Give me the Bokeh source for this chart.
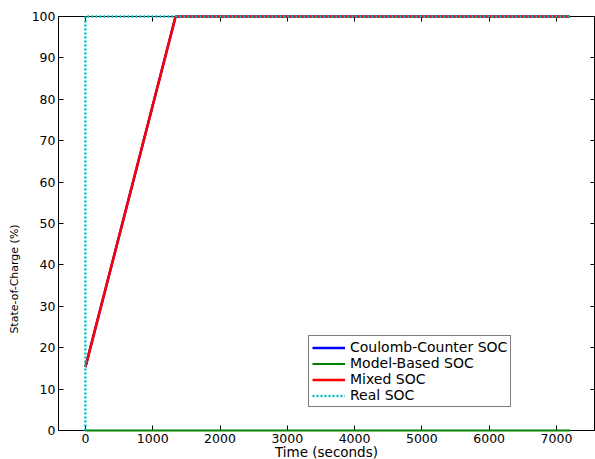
import math
from bokeh.plotting import figure
from bokeh.models import LinearAxis, FixedTicker, Range1d, Legend
from bokeh.core.properties import value
from bokeh.embed import file_html
from bokeh.resources import INLINE

# ---- data ----
t_cc = [0, 1340, 7200]
soc_cc = [15.3, 100, 100]
t_model = [0, 7200]
soc_model = [0, 0]
t_mixed = [0, 1340, 7200]
soc_mixed = [15.3, 100, 100]
t_real = [0, 0, 7200]
soc_real = [0, 100, 100]

x_ticks = [0, 1000, 2000, 3000, 4000, 5000, 6000, 7000]
y_ticks = [0, 10, 20, 30, 40, 50, 60, 70, 80, 90, 100]

FONT = "DejaVu Sans"

p = figure(width=595, height=459, output_backend="svg", toolbar_location=None,
           x_range=Range1d(-400, 7580), y_range=Range1d(0, 100),
           min_border_left=58, min_border_right=0, min_border_top=16,
           min_border_bottom=29)
p.background_fill_color = "white"
p.border_fill_color = "white"
p.outline_line_color = "black"
p.xgrid.visible = False
p.ygrid.visible = False

for ax in p.xaxis:
    ax.ticker = FixedTicker(ticks=x_ticks)
for ax in p.yaxis:
    ax.ticker = FixedTicker(ticks=y_ticks)

def style_axis(ax, labels=True):
    ax.major_tick_in = 5
    ax.major_tick_out = 0
    ax.minor_tick_line_color = None
    ax.axis_line_color = "black"
    ax.major_tick_line_color = "black"
    ax.major_label_text_font = FONT
    ax.major_label_text_color = "black"
    if labels:
        ax.major_label_text_font_size = "12.5px"
        ax.major_label_standoff = 3
    else:
        ax.major_label_text_font_size = "0px"
        ax.major_label_standoff = 0
        ax.major_label_text_color = None

for ax in p.xaxis:
    style_axis(ax)
for ax in p.yaxis:
    style_axis(ax)

top_ax = LinearAxis(ticker=FixedTicker(ticks=x_ticks))
style_axis(top_ax, labels=False)
p.add_layout(top_ax, "above")
right_ax = LinearAxis(ticker=FixedTicker(ticks=y_ticks))
style_axis(right_ax, labels=False)
p.add_layout(right_ax, "right")

r1 = p.line(t_cc, soc_cc, line_color="#0000ff", line_width=2.5, level="overlay")
r2 = p.line(t_model, soc_model, line_color="#008000", line_width=2, level="overlay")
r3 = p.line(t_mixed, soc_mixed, line_color="#ff0000", line_width=2.5, level="overlay")
r4 = p.line(t_real, soc_real, line_color="#00bfbf", line_width=2.5, line_dash="2 2",
            level="overlay")

legend = Legend(items=[("Coulomb-Counter SOC", [r1]), ("Model-Based SOC", [r2]),
                       ("Mixed SOC", [r3]), ("Real SOC", [r4])],
                location=(250, 23))
legend.label_text_font = FONT
legend.label_text_font_size = "14px"
legend.label_text_color = "black"
legend.glyph_width = 33
legend.glyph_height = 15
legend.label_height = 15
legend.label_standoff = 5
legend.spacing = 0
legend.padding = 3
legend.margin = 0
legend.border_line_color = "black"
legend.border_line_width = 1
legend.background_fill_color = "white"
legend.background_fill_alpha = 1
p.add_layout(legend, "center")

# axis titles (placed just outside the frame)
p.text(x=[-1055], y=[36.6], text=["State-of-Charge (%)"], angle=math.pi / 2,
       text_align="center", text_baseline="middle", level="overlay",
       text_font=value(FONT), text_font_size="11px", text_color="black")
p.text(x=[3582], y=[-5.3], text=["Time (seconds)"], text_align="center",
       text_baseline="middle", level="overlay",
       text_font=value(FONT), text_font_size="13.5px", text_color="black")

open("out.html", "w").write(file_html(p, INLINE))
